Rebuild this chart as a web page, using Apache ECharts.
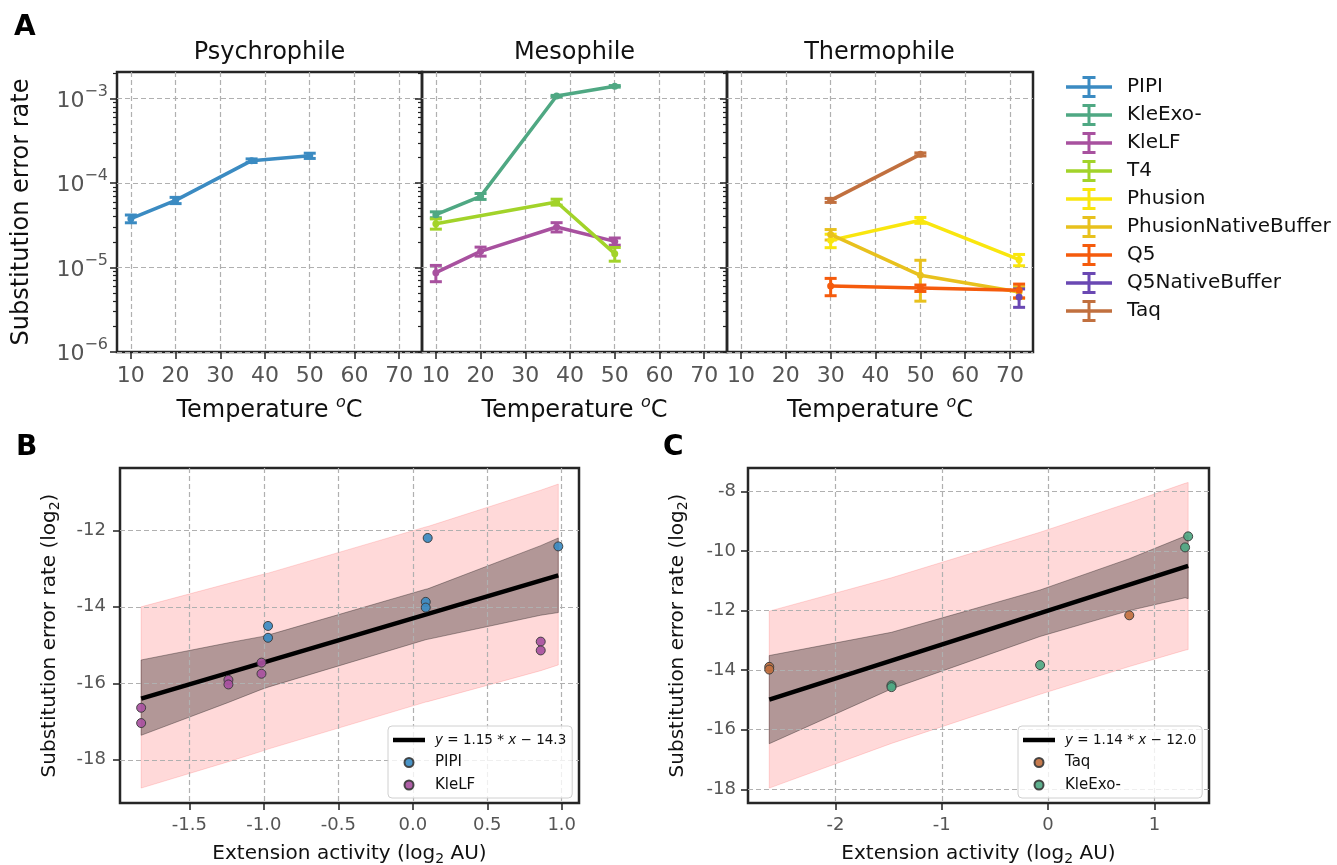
<!DOCTYPE html>
<html>
<head>
<meta charset="utf-8">
<title>Substitution error rate</title>
<script src="https://cdn.jsdelivr.net/npm/echarts@6/dist/echarts.min.js"></script>
<style>
  html, body { margin: 0; padding: 0; background: #fff; }
  #chart { width: 1337px; height: 865px; }
</style>
</head>
<body>
<div id="chart"></div>
<script>
// ---------- panel A: error rate vs temperature ----------
const panelTitles = ['Psychrophile', 'Mesophile', 'Thermophile'];
const tempTicks = [10, 20, 30, 40, 50, 60, 70];
const rateTicks = [1e-6, 1e-5, 1e-4, 1e-3];
const minorMultipliers = [2, 3, 4, 5, 6, 7, 8, 9];

const polymerases = ['PIPI', 'KleExo-', 'KleLF', 'T4', 'Phusion', 'PhusionNativeBuffer', 'Q5', 'Q5NativeBuffer', 'Taq'];
const polPanel = [0, 1, 1, 1, 2, 2, 2, 2, 2];
const polColors = ['#3b8bc2', '#4fa883', '#a8519f', '#a2d32a', '#f9e60e', '#e8c11d', '#f55b0c', '#6a48b3', '#c1703f'];

const pipiTemp = [10, 20, 37, 50];
const pipiRate = [3.79e-5, 6.25e-5, 1.845e-4, 2.11e-4];
const pipiErr = [4.0e-6, 5.3e-6, 9.0e-6, 1.5e-5];

const kleExoTemp = [10, 20, 37, 50];
const kleExoRate = [4.23e-5, 6.97e-5, 1.074e-3, 1.40e-3];
const kleExoErr = [3.4e-6, 5.6e-6, 2.0e-5, 3.0e-5];

const kleLFTemp = [10, 20, 37, 50];
const kleLFRate = [8.7e-6, 1.556e-5, 3.02e-5, 2.04e-5];
const kleLFErr = [1.9e-6, 1.9e-6, 3.8e-6, 2.0e-6];

const t4Temp = [10, 37, 50];
const t4Rate = [3.31e-5, 5.97e-5, 1.46e-5];
const t4Err = [4.6e-6, 4.8e-6, 2.7e-6];

const phusionTemp = [30, 50, 72];
const phusionRate = [2.10e-5, 3.63e-5, 1.24e-5];
const phusionErr = [3.8e-6, 2.9e-6, 1.9e-6];

const phusionNBTemp = [30, 50, 72];
const phusionNBRate = [2.47e-5, 8.1e-6, 5.13e-6];
const phusionNBErr = [3.5e-6, 4.1e-6, 0.8e-6];

const q5Temp = [30, 50, 72];
const q5Rate = [6.04e-6, 5.71e-6, 5.37e-6];
const q5Err = [1.4e-6, 0.5e-6, 1.0e-6];

const q5NBTemp = [72];
const q5NBRate = [4.48e-6];
const q5NBErr = [1.1e-6];

const taqTemp = [30, 50];
const taqRate = [6.25e-5, 2.19e-4];
const taqErr = [3.4e-6, 9.0e-6];

const polTemps = [pipiTemp, kleExoTemp, kleLFTemp, t4Temp, phusionTemp, phusionNBTemp, q5Temp, q5NBTemp, taqTemp];
const polRates = [pipiRate, kleExoRate, kleLFRate, t4Rate, phusionRate, phusionNBRate, q5Rate, q5NBRate, taqRate];
const polErrs = [pipiErr, kleExoErr, kleLFErr, t4Err, phusionErr, phusionNBErr, q5Err, q5NBErr, taqErr];

// ---------- panel B: PIPI / KleLF vs extension activity ----------
const bTicksX = [-1.5, -1.0, -0.5, 0.0, 0.5, 1.0];
const bTicksY = [-18, -16, -14, -12];
const pipiActX = [0.100, 0.977, 0.087, 0.087, -0.972, -0.972];
const pipiActY = [-12.20, -12.42, -13.87, -14.02, -14.50, -14.81];
const kleLFActX = [-1.824, -1.824, -1.238, -1.238, -1.016, -1.016, 0.859, 0.859];
const kleLFActY = [-16.64, -17.04, -15.91, -16.03, -15.46, -15.75, -14.91, -15.14];
const fitBCoef = [1.15, -14.3];
const fitBX = [-1.824, 0.977];
const fitBY = [-16.40, -13.18];
const bandBX = [-1.824, -1.238, -1.016, -0.972, 0.087, 0.100, 0.859, 0.977];
const ciBUpper = [-15.39, -14.94, -14.78, -14.74, -13.54, -13.53, -12.40, -12.20];
const ciBLower = [-17.36, -16.50, -16.16, -16.10, -14.86, -14.85, -14.22, -14.15];
const piBUpper = [-14.00, -13.39, -13.16, -13.12, -11.91, -11.90, -10.95, -10.79];
const piBLower = [-18.74, -18.05, -17.78, -17.72, -16.49, -16.48, -15.67, -15.52];

// ---------- panel C: Taq / KleExo- vs extension activity ----------
const cTicksX = [-2, -1, 0, 1];
const cTicksY = [-18, -16, -14, -12, -10, -8];
const taqActX = [-2.623, -2.623, 0.764];
const taqActY = [-13.89, -13.98, -12.16];
const kleExoActX = [-1.473, -1.473, -0.075, 1.289, 1.318];
const kleExoActY = [-14.51, -14.57, -13.83, -9.88, -9.51];
const fitCCoef = [1.14, -12.0];
const fitCX = [-2.623, 1.318];
const fitCY = [-14.99, -10.50];
const bandCX = [-2.623, -1.473, -0.075, 0.764, 1.289, 1.318];
const ciCUpper = [-13.51, -12.73, -11.31, -10.26, -9.50, -9.48];
const ciCLower = [-16.47, -14.63, -12.87, -12.00, -11.57, -11.60];
const piCUpper = [-12.02, -10.90, -9.37, -8.38, -7.73, -7.70];
const piCLower = [-17.96, -16.46, -14.81, -13.88, -13.33, -13.31];

// ---------- styling ----------
const FONT = 'DejaVu Sans';
const TICK = { show: true, inside: false, length: 7, lineStyle: { color: '#222', width: 1.5 } };
const SPLIT = { show: true, lineStyle: { color: '#b0b0b0', width: 1.2, type: [5, 3] } };
const FRAME = { show: true, borderColor: '#262626', borderWidth: 2.5, backgroundColor: 'transparent', outerBoundsMode: 'none' };
const NO_LINE = { show: false, onZero: false };
const LABEL_COLOR = '#555';
const A_YMIN = 1e-6, A_YMAX = 2.07e-3;
const A_XMIN = 6.9, A_XMAX = 75.1;

const errIcon = 'path://M0,9.25H46V12.75H0Z M21.5,0H24.5V22H21.5Z M16.5,0H29.5V3H16.5Z M16.5,19H29.5V22H16.5Z';
const fitIcon = 'path://M0,0H32V4.5H0Z';

// minor ticks sit on a plain value axis that runs in log10 units
const minorRateExp = rateTicks.flatMap(d => minorMultipliers.map(m => Math.log10(m * d))).filter(v => v < Math.log10(A_YMAX));

const gridLeftA = [117, 422, 727];
const gridWidthA = [305, 305, 306];
const grids = gridLeftA.map((left, i) => Object.assign({ left, top: 72, width: gridWidthA[i], height: 280 }, FRAME));
grids.push(Object.assign({ left: 120, top: 468, width: 459, height: 335 }, FRAME));
grids.push(Object.assign({ left: 748, top: 468, width: 461, height: 335 }, FRAME));

const tempName = '{n|Temperature }{o|o}{n|C}';
const tempRich = {
  n: { fontSize: 24, lineHeight: 24, color: '#111', fontFamily: FONT },
  o: { fontSize: 16, lineHeight: 16, padding: [0, 0, 16, 0], fontStyle: 'italic', color: '#111', fontFamily: FONT }
};
const logRich = {
  n: { fontSize: 20, lineHeight: 24, color: '#111', fontFamily: FONT },
  sb: { fontSize: 14, lineHeight: 14, padding: [10, 0, 0, 0], color: '#111', fontFamily: FONT }
};

const xAxes = gridLeftA.map((_, i) => ({
  type: 'value', gridIndex: i, min: A_XMIN, max: A_XMAX,
  axisLine: NO_LINE,
  axisTick: Object.assign({ customValues: tempTicks }, TICK),
  axisLabel: { customValues: tempTicks, color: LABEL_COLOR, fontSize: 22, margin: 13, fontFamily: FONT },
  splitLine: SPLIT,
  name: tempName, nameLocation: 'middle', nameGap: 47, nameMoveOverlap: false,
  nameTextStyle: { rich: tempRich }
}));
xAxes.push({
  type: 'value', gridIndex: 3, min: -1.966, max: 1.116, z: 1,
  axisLine: NO_LINE,
  axisTick: Object.assign({ customValues: bTicksX }, TICK),
  axisLabel: { customValues: bTicksX, formatter: v => v.toFixed(1), color: LABEL_COLOR, fontSize: 18, margin: 13, fontFamily: FONT },
  splitLine: SPLIT,
  name: '{n|Extension activity (log}{sb|2}{n| AU)}', nameLocation: 'middle', nameGap: 39, nameMoveOverlap: false,
  nameTextStyle: { rich: logRich }
});
xAxes.push({
  type: 'value', gridIndex: 4, min: -2.823, max: 1.514, z: 1,
  axisLine: NO_LINE,
  axisTick: Object.assign({ customValues: cTicksX }, TICK),
  axisLabel: { customValues: cTicksX, formatter: v => String(v), color: LABEL_COLOR, fontSize: 18, margin: 13, fontFamily: FONT },
  splitLine: SPLIT,
  name: '{n|Extension activity (log}{sb|2}{n| AU)}', nameLocation: 'middle', nameGap: 39, nameMoveOverlap: false,
  nameTextStyle: { rich: logRich }
});

const yAxes = [];
gridLeftA.forEach((_, i) => {
  yAxes.push({
    type: 'log', logBase: 10, gridIndex: i, min: A_YMIN, max: A_YMAX, position: 'left',
    axisLine: NO_LINE,
    axisTick: Object.assign({ customValues: rateTicks }, TICK),
    axisLabel: {
      show: i === 0, customValues: rateTicks, margin: 9,
      formatter: v => '{b|10}{s|\u2212' + Math.abs(Math.round(Math.log10(v))) + '}',
      rich: {
        b: { fontSize: 22, lineHeight: 22, padding: [5, 0, 0, 0], color: LABEL_COLOR, fontFamily: FONT },
        s: { fontSize: 16, lineHeight: 16, padding: [0, 0, 14, 0], color: LABEL_COLOR, fontFamily: FONT }
      }
    },
    splitLine: SPLIT,
    name: i === 0 ? 'Substitution error rate' : '', nameLocation: 'middle', nameGap: 83, nameMoveOverlap: false,
    nameTextStyle: { fontSize: 24, lineHeight: 24, color: '#111', fontFamily: FONT }
  });
  yAxes.push({
    type: 'value', gridIndex: i, min: Math.log10(A_YMIN), max: Math.log10(A_YMAX), position: 'left',
    axisLine: NO_LINE,
    axisTick: { show: true, inside: false, customValues: minorRateExp, length: 4, lineStyle: { color: '#222', width: 1.2 } },
    axisLabel: { show: false },
    splitLine: { show: false }
  });
});
yAxes.push({
  type: 'value', gridIndex: 3, min: -19.13, max: -10.37, z: 1,
  axisLine: NO_LINE,
  axisTick: Object.assign({ customValues: bTicksY }, TICK),
  axisLabel: { customValues: bTicksY, formatter: v => String(v), color: LABEL_COLOR, fontSize: 18, margin: 14, fontFamily: FONT },
  splitLine: SPLIT,
  name: '{n|Substitution error rate (log}{sb|2}{n|)}', nameLocation: 'middle', nameGap: 58, nameMoveOverlap: false,
  nameTextStyle: { rich: logRich }
});
yAxes.push({
  type: 'value', gridIndex: 4, min: -18.46, max: -7.215, z: 1,
  axisLine: NO_LINE,
  axisTick: Object.assign({ customValues: cTicksY }, TICK),
  axisLabel: { customValues: cTicksY, formatter: v => String(v), color: LABEL_COLOR, fontSize: 18, margin: 12, fontFamily: FONT },
  splitLine: SPLIT,
  name: '{n|Substitution error rate (log}{sb|2}{n|)}', nameLocation: 'middle', nameGap: 58, nameMoveOverlap: false,
  nameTextStyle: { rich: logRich }
});

function renderErrorBar(params, api) {
  const x = api.value(0), y = api.value(1), e = api.value(2);
  const top = api.coord([x, y + e]);
  const bot = api.coord([x, y - e]);
  const hw = 6;
  const style = { stroke: api.visual('color'), lineWidth: 3 };
  return {
    type: 'group',
    children: [
      { type: 'line', shape: { x1: top[0], y1: top[1], x2: bot[0], y2: bot[1] }, style },
      { type: 'line', shape: { x1: top[0] - hw, y1: top[1], x2: top[0] + hw, y2: top[1] }, style },
      { type: 'line', shape: { x1: bot[0] - hw, y1: bot[1], x2: bot[0] + hw, y2: bot[1] }, style }
    ]
  };
}

const series = [];
polymerases.forEach((name, k) => {
  const p = polPanel[k];
  series.push({
    name, type: 'line', xAxisIndex: p, yAxisIndex: 2 * p, z: 2,
    data: polTemps[k].map((t, i) => [t, polRates[k][i]]),
    symbol: 'circle', symbolSize: 7, showSymbol: true,
    lineStyle: { color: polColors[k], width: 3.5 },
    itemStyle: { color: polColors[k], borderWidth: 0 }
  });
});
polymerases.forEach((name, k) => {
  const p = polPanel[k];
  series.push({
    name, type: 'custom', xAxisIndex: p, yAxisIndex: 2 * p, z: 2, clip: false,
    data: polTemps[k].map((t, i) => [t, polRates[k][i], polErrs[k][i]]),
    encode: { x: 0, y: 1 },
    itemStyle: { color: polColors[k] },
    renderItem: renderErrorBar
  });
});

function bandSeries(axisIdx, xs, lo, hi, fill, stroke) {
  return {
    type: 'custom', xAxisIndex: axisIdx, yAxisIndex: axisIdx + 3, z: 0, silent: true,
    data: [[xs[0], hi[0]]],
    encode: { x: 0, y: 1 },
    renderItem: (params, api) => {
      const pts = xs.map((x, i) => api.coord([x, hi[i]]));
      for (let i = xs.length - 1; i >= 0; i--) pts.push(api.coord([xs[i], lo[i]]));
      return { type: 'polygon', shape: { points: pts }, style: { fill, stroke, lineWidth: 1 } };
    }
  };
}
const PI_FILL = 'rgba(255,0,0,0.15)', PI_EDGE = 'rgba(255,0,0,0.14)';
const CI_FILL = 'rgba(0,0,0,0.3)', CI_EDGE = 'rgba(0,0,0,0.32)';

series.push(bandSeries(3, bandBX, piBLower, piBUpper, PI_FILL, PI_EDGE));
series.push(bandSeries(3, bandBX, ciBLower, ciBUpper, CI_FILL, CI_EDGE));
series.push(bandSeries(4, bandCX, piCLower, piCUpper, PI_FILL, PI_EDGE));
series.push(bandSeries(4, bandCX, ciCLower, ciCUpper, CI_FILL, CI_EDGE));

function fitSeries(name, axisIdx, xs, ys) {
  return {
    name, type: 'line', xAxisIndex: axisIdx, yAxisIndex: axisIdx + 3, z: 3,
    data: xs.map((x, i) => [x, ys[i]]), symbol: 'none',
    lineStyle: { color: '#000', width: 4.5 }, itemStyle: { color: '#000' }
  };
}
function dotSeries(name, axisIdx, xs, ys, color) {
  return {
    name, type: 'scatter', xAxisIndex: axisIdx, yAxisIndex: axisIdx + 3, z: 4,
    data: xs.map((x, i) => [x, ys[i]]), symbolSize: 9,
    itemStyle: { color, borderColor: '#3a3a3a', borderWidth: 1, opacity: 0.92 }
  };
}
series.push(fitSeries('fitB', 3, fitBX, fitBY));
series.push(dotSeries('B:PIPI', 3, pipiActX, pipiActY, polColors[0]));
series.push(dotSeries('B:KleLF', 3, kleLFActX, kleLFActY, polColors[2]));
series.push(fitSeries('fitC', 4, fitCX, fitCY));
series.push(dotSeries('C:Taq', 4, taqActX, taqActY, polColors[8]));
series.push(dotSeries('C:KleExo-', 4, kleExoActX, kleExoActY, polColors[1]));

function eqText(coef) {
  return '{e|}{i|y}{e| = ' + coef[0].toFixed(2) + ' * }{i|x}{e| \u2212 ' + Math.abs(coef[1]).toFixed(1) + '}';
}
function legendName(name) {
  if (name === 'fitB') return eqText(fitBCoef);
  if (name === 'fitC') return eqText(fitCCoef);
  return name.replace(/^[BC]:/, '');
}
function smallLegend(left, names) {
  return {
    orient: 'vertical', left, top: 726, selectedMode: false,
    itemWidth: 32, itemHeight: 9, itemGap: 6.5, padding: [6, 6, 5, 5],
    backgroundColor: 'rgba(255,255,255,0.8)', borderColor: '#d0d0d0', borderWidth: 1, borderRadius: 4,
    data: names.map(n => ({ name: n, icon: n.indexOf('fit') === 0 ? fitIcon : 'circle' })),
    formatter: legendName,
    textStyle: {
      fontSize: 15, lineHeight: 16, color: '#111', fontFamily: FONT, padding: [0, 0, 0, 5],
      rich: {
        e: { fontSize: 13.5, lineHeight: 16, color: '#111', fontFamily: FONT },
        i: { fontSize: 13.5, lineHeight: 16, fontStyle: 'italic', color: '#111', fontFamily: FONT }
      }
    }
  };
}

const titleStyle = { fontSize: 24, lineHeight: 24, fontWeight: 'normal', color: '#111', fontFamily: FONT };
const letterStyle = { fontSize: 28, lineHeight: 28, fontWeight: 'bold', color: '#000', fontFamily: FONT };
const titles = [
  { text: 'A', left: 14, top: 14, textStyle: letterStyle, padding: 0 },
  { text: 'B', left: 16, top: 434, textStyle: letterStyle, padding: 0 },
  { text: 'C', left: 663, top: 434, textStyle: letterStyle, padding: 0 }
];
panelTitles.forEach((t, i) => {
  titles.push({ text: t, left: gridLeftA[i] + 152.5, top: 41, textAlign: 'center', textStyle: titleStyle, padding: 0 });
});

const option = {
  animation: false,
  backgroundColor: '#fff',
  textStyle: { fontFamily: FONT },
  title: titles,
  legend: [
    {
      orient: 'vertical', left: 1066, top: 76, selectedMode: false, padding: 0,
      itemWidth: 46, itemHeight: 22, itemGap: 6,
      itemStyle: { borderWidth: 0 },
      data: polymerases.map(n => ({ name: n, icon: errIcon })),
      textStyle: { fontSize: 20, color: '#111', fontFamily: FONT, padding: [0, 0, 0, 10] }
    },
    smallLegend(388, ['fitB', 'B:PIPI', 'B:KleLF']),
    smallLegend(1018, ['fitC', 'C:Taq', 'C:KleExo-'])
  ],
  grid: grids,
  xAxis: xAxes,
  yAxis: yAxes,
  series
};

const chart = echarts.init(document.getElementById('chart'), null, { renderer: 'canvas' });
chart.setOption(option);
window.addEventListener('resize', () => chart.resize());
</script>
</body>
</html>
